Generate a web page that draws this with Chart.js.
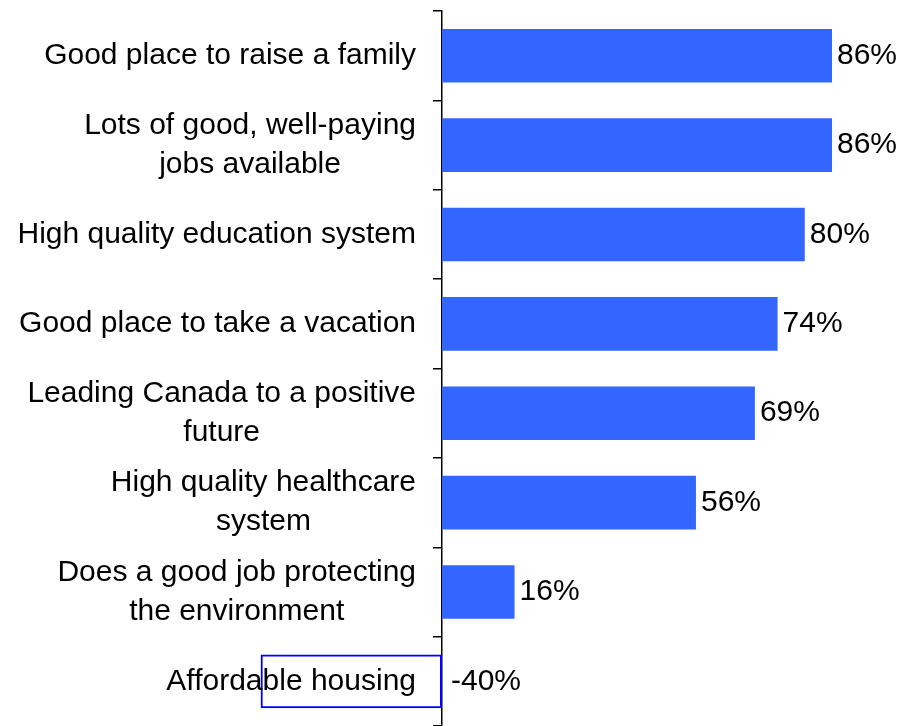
<!DOCTYPE html>
<html>
<head>
<meta charset="utf-8">
<script src="https://cdn.jsdelivr.net/npm/chart.js@4/dist/chart.umd.min.js"></script>
<style>
html,body{margin:0;padding:0;background:#fff;}
#wrap{width:904px;height:726px;position:relative;}
</style>
</head>
<body>
<div id="wrap"><canvas id="c" width="904" height="726"></canvas></div>
<script>
const categories = [
  ["Good place to raise a family"],
  ["Lots of good, well-paying", "jobs available"],
  ["High quality education system"],
  ["Good place to take a vacation"],
  ["Leading Canada to a positive", "future"],
  ["High quality healthcare", "system"],
  ["Does a good job protecting", "the environment"],
  ["Affordable housing"]
];
const values = [86, 86, 80, 74, 69, 56, 16, -40];
const valueLabels = ["86%", "86%", "80%", "74%", "69%", "56%", "16%", "-40%"];

const FONT = '30px "Liberation Sans", Arial, Helvetica, sans-serif';

const labelPlugin = {
  id: 'labelPlugin',
  afterDatasetsDraw(chart) {
    const ctx = chart.ctx;
    const xs = chart.scales.x, ys = chart.scales.y;
    const x0 = xs.getPixelForValue(0);
    ctx.save();
    ctx.font = FONT;
    ctx.fillStyle = '#000';
    ctx.textBaseline = 'middle';
    categories.forEach((lines, i) => {
      const yc = ys.getPixelForValue(i);
      const lh = 39;
      const widths = lines.map(l => ctx.measureText(l).width);
      const wmax = Math.max(...widths);
      const right = x0 - 26;
      const cx = right - wmax / 2;
      ctx.textAlign = 'center';
      lines.forEach((l, k) => {
        const y = yc + (k - (lines.length - 1) / 2) * lh;
        ctx.fillText(l, cx, y);
      });
      ctx.textAlign = 'left';
      const xe = xs.getPixelForValue(Math.max(values[i], 0));
      ctx.fillText(valueLabels[i], xe + (values[i] < 0 ? 9 : 5), yc);
    });
    ctx.restore();
  }
};

new Chart(document.getElementById('c'), {
  type: 'bar',
  data: {
    labels: categories,
    datasets: [{
      data: values,
      backgroundColor: values.map(v => v < 0 ? 'rgba(0,0,0,0)' : '#3366FF'),
      borderColor: values.map(v => v < 0 ? '#0000FF' : 'rgba(0,0,0,0)'),
      borderWidth: values.map(v => v < 0 ? 2 : 0),
      borderSkipped: false,
      barPercentage: 0.6,
      categoryPercentage: 1.0
    }]
  },
  options: {
    indexAxis: 'y',
    responsive: false,
    animation: false,
    layout: { padding: { top: 11, bottom: -12, left: 0, right: 0 } },
    plugins: { legend: { display: false }, tooltip: { enabled: false } },
    scales: {
      x: {
        display: false,
        min: -97.47,
        max: 101.88
      },
      y: {
        position: { x: 0 },
        offset: true,
        ticks: { display: false },
        grid: {
          offset: true,
          drawOnChartArea: false,
          drawTicks: true,
          tickLength: 8,
          color: '#000',
          lineWidth: 1.5
        },
        border: { display: true, color: '#000', width: 1.5 }
      }
    }
  },
  plugins: [labelPlugin]
});
</script>
</body>
</html>
